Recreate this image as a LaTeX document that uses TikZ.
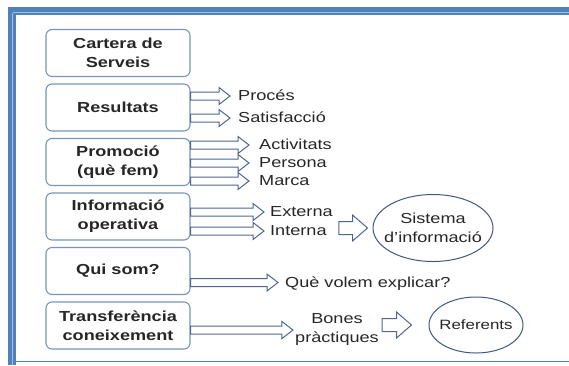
\documentclass[tikz,border=0pt]{standalone}
\usepackage{fontspec}
\setmainfont{Liberation Sans}[FakeStretch=1.25]
\usetikzlibrary{shapes.geometric,calc}

\definecolor{frameblue}{RGB}{79,129,189}
\definecolor{framelight}{RGB}{168,192,222}
\definecolor{boxline}{RGB}{118,148,188}
\definecolor{arrowline}{RGB}{78,102,145}
\definecolor{ellline}{RGB}{66,88,128}
\definecolor{txt}{RGB}{38,38,38}
\newcommand{\lblsize}{\fontsize{14.5}{19}\selectfont}

\begin{document}
\begin{tikzpicture}[x=1pt, y=-1pt, node distance=54.5pt,
  box node/.style={draw=boxline, line width=1.1pt, rounded corners=6pt, minimum width=144pt, minimum height=47pt, align=center, inner sep=0pt, font=\lblsize\bfseries},
  label node/.style={anchor=west, inner sep=1pt, text height=10pt, text depth=1pt},
  oval node/.style={ellipse, draw=ellline, line width=1pt, inner sep=-14pt, align=center},
  blk/.style={draw=arrowline, fill=white, line width=1pt, to path={let \p1=(\tikztostart), \p2=(\tikztotarget) in
    (\x1,\y1+4pt) -- (\x2-11pt,\y1+4pt) -- (\x2-11pt,\y1+8.5pt) -- (\x2,\y1) -- (\x2-11pt,\y1-8.5pt) -- (\x2-11pt,\y1-4pt) -- (\x1,\y1-4pt) -- cycle}},
  fatblk/.style={draw=arrowline, fill=white, line width=1pt, to path={let \p1=(\tikztostart), \p2=(\tikztotarget) in
    (\x1,\y1+6.5pt) -- (\x2-15pt,\y1+6.5pt) -- (\x2-15pt,\y1+13pt) -- (\x2,\y1) -- (\x2-15pt,\y1-13pt) -- (\x2-15pt,\y1-6.5pt) -- (\x1,\y1-6.5pt) -- cycle}}]
  \tikzstyle{every node}=[font=\lblsize, text=txt]

  % frame
  \useasboundingbox (0,0) rectangle (569,365);
  \fill[frameblue] (8,7) rectangle (569,15);
  \fill[frameblue] (8,7) rectangle (16,365);
  \draw[framelight, line width=1.5pt] (12.5,12.5) -- (569,12.5);
  \draw[framelight, line width=1.5pt] (12.5,12.5) -- (12.5,365);
  \draw[frameblue, line width=1.5pt] (16,361.5) -- (569,361.5);

  % left column
  \node[box node] (1) at (118,53) {Cartera de\\Serveis};
  \node[box node] (2) [below of=1] {Resultats};
  \node[box node] (3) [below of=2] {Promoció\\(què fem)};
  \node[box node] (4) [below of=3] {Informació\\operativa};
  \node[box node] (5) [below of=4] {Qui som?};
  \node[box node] (6) [below of=5] {Transferència\\coneixement};

  % right side
  \node[label node] (7) at (237,96) {Procés};
  \node[label node] (8) at (237,118) {Satisfacció};
  \node[label node] (9) at (258,145) {Activitats};
  \node[label node] (10) at (258,163) {Persona};
  \node[label node] (11) at (258,181) {Marca};
  \node[label node] (12) at (269,212) {Externa};
  \node[label node] (13) at (269,231) {Interna};
  \node[label node] (14) at (284,282.5) {Què volem explicar?};
  \node[align=center, inner sep=1pt] (15) at (337,330) {Bones\\pràctiques};
  \node[oval node, minimum width=120pt, minimum height=67pt] (16) at (433,228) {Sistema\\d’informació};
  \node[oval node, minimum width=94pt, minimum height=56pt, font=\fontsize{13.5}{17}\selectfont] (17) at (476,325) {Referents};

  \path[blk] (2.east |- 7.west) to ([xshift=-7pt]7.west);
  \path[blk] (2.east |- 8.west) to ([xshift=-7pt]8.west);
  \path[blk] (3.east |- 9.west) to ([xshift=-9pt]9.west);
  \path[blk] (3.east |- 10.west) to ([xshift=-9pt]10.west);
  \path[blk] (3.east |- 11.west) to ([xshift=-9pt]11.west);
  \path[blk] (4.east |- 12.west) to ([xshift=-5pt]12.west);
  \path[blk] (4.east |- 13.west) to ([xshift=-5pt]13.west);
  \path[blk] (5.east |- 14.west) to ([xshift=-6pt]14.west);
  \path[blk] (6.east |- 15.west) to ([xshift=-1pt]15.west);
  \path[fatblk] ($(13.east |- 16.west)+(11,0)$) to ([xshift=-5pt]16.west);
  \path[fatblk] ($(15.east |- 17.west)+(2,0)$) to ([xshift=-17pt]17.west);
\end{tikzpicture}
\end{document}
